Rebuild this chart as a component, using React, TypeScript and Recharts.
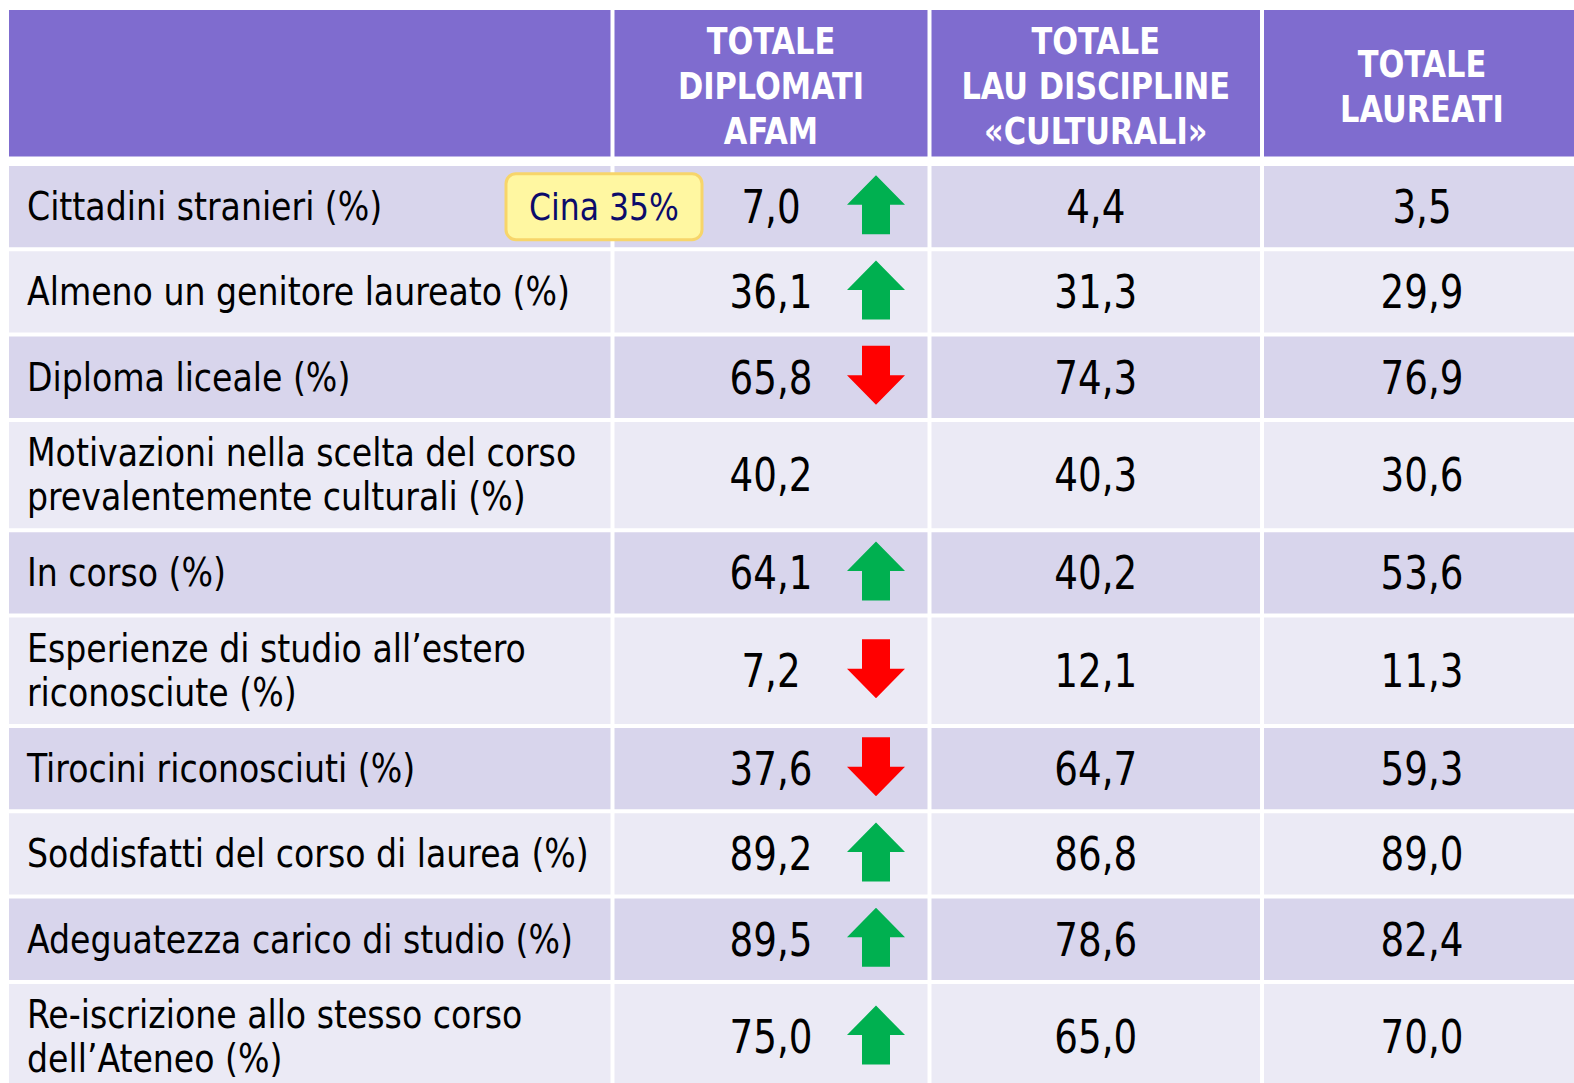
import { ComposedChart, ReferenceArea, Scatter, XAxis, YAxis } from "recharts";

// table content
const HEADERS = [
  "",
  "TOTALE\nDIPLOMATI\nAFAM",
  "TOTALE\nLAU DISCIPLINE\n«CULTURALI»",
  "TOTALE\nLAUREATI",
];

const ROW_LABELS = [
  "Cittadini stranieri (%)",
  "Almeno un genitore laureato (%)",
  "Diploma liceale (%)",
  "Motivazioni nella scelta del corso\nprevalentemente culturali (%)",
  "In corso (%)",
  "Esperienze di studio all’estero\nriconosciute (%)",
  "Tirocini riconosciuti (%)",
  "Soddisfatti del corso di laurea (%)",
  "Adeguatezza carico di studio (%)",
  "Re-iscrizione allo stesso corso\ndell’Ateneo (%)",
];

const AFAM = [7.0, 36.1, 65.8, 40.2, 64.1, 7.2, 37.6, 89.2, 89.5, 75.0];
const CULTURALI = [4.4, 31.3, 74.3, 40.3, 40.2, 12.1, 64.7, 86.8, 78.6, 65.0];
const LAUREATI = [3.5, 29.9, 76.9, 30.6, 53.6, 11.3, 59.3, 89.0, 82.4, 70.0];
const AFAM_TREND = ["up", "up", "down", "", "up", "down", "down", "up", "up", "up"];

const NOTE_ROW = 0;
const NOTE_TEXT = "Cina 35%";

// layout
const W = 1574;
const H = 1083;
const COL_EDGES = [9, 612.5, 929.5, 1262, 1582];
const GAP = 4;
const HEADER_TOP = 10;
const HEADER_H = 146.5;
const HEADER_GAP = 9.5;
const ROW_H = 81.3;
const EXTRA_LINE_H = 25.1;

const FONT = "'Liberation Sans Narrow', 'DejaVu Sans Condensed', 'Liberation Sans', sans-serif";
const HEADER_BG = "#7F6CCF";
const ROW_DARK = "#D8D5EC";
const ROW_LIGHT = "#EBEAF5";

const fmt = (v: number) => v.toFixed(1).replace(".", ",");

const rowTops: number[] = [];
const rowHeights: number[] = [];
let cursor = HEADER_TOP + HEADER_H + HEADER_GAP;
ROW_LABELS.forEach((label) => {
  const h = ROW_H + (label.split("\n").length - 1) * EXTRA_LINE_H;
  rowTops.push(cursor);
  rowHeights.push(h);
  cursor += h + GAP;
});

const colCenter = (i: number) => (COL_EDGES[i] + COL_EDGES[i + 1]) / 2;
const cellX1 = (i: number) => COL_EDGES[i] + (i === 0 ? 0 : GAP / 2);
const cellX2 = (i: number) => Math.min(COL_EDGES[i + 1] - GAP / 2, W);
const rowBottom = (r: number) => Math.min(rowTops[r] + rowHeights[r], H);

const headerPts = HEADERS.map((text, i) => ({
  x: colCenter(i),
  y: HEADER_TOP + HEADER_H / 2 + 3,
  text,
}));

const labelPts = ROW_LABELS.map((text, i) => ({
  x: 27,
  y: rowTops[i] + rowHeights[i] / 2,
  text,
}));

const valuePts = [AFAM, CULTURALI, LAUREATI].flatMap((serie, c) =>
  serie.map((v, i) => ({
    x: colCenter(c + 1),
    y: rowTops[i] + rowHeights[i] / 2,
    text: fmt(v),
  }))
);

const arrowPts = AFAM_TREND.map((t, i) => ({
  x: colCenter(1) + 105,
  y: rowTops[i] + rowHeights[i] / 2 - 2,
  trend: t,
})).filter((p) => p.trend);

const notePts = [
  { x: 604, y: rowTops[NOTE_ROW] + rowHeights[NOTE_ROW] / 2, text: NOTE_TEXT },
];

const MultiText = (props: any) => {
  const { cx, cy, payload, anchor, size, weight, color, lineH, squeeze } = props;
  const lines: string[] = payload.text.split("\n");
  const start = cy - ((lines.length - 1) * lineH) / 2;
  return (
    <text
      x={cx}
      textAnchor={anchor}
      fontFamily={FONT}
      fontSize={size}
      fontWeight={weight}
      fill={color}
      transform={`translate(${cx},0) scale(${squeeze},1) translate(${-cx},0)`}
    >
      {lines.map((l, k) => (
        <tspan key={k} x={cx} y={start + k * lineH} dominantBaseline="central">
          {l}
        </tspan>
      ))}
    </text>
  );
};

const Arrow = ({ cx, cy, payload }: any) => {
  const up = payload.trend === "up";
  const d = up ? -1 : 1;
  const pts = [
    [0, 29.5 * d],
    [29, 0],
    [14, 0],
    [14, -29.5 * d],
    [-14, -29.5 * d],
    [-14, 0],
    [-29, 0],
  ]
    .map(([px, py]) => `${cx + px},${cy + py}`)
    .join(" ");
  return <polygon points={pts} fill={up ? "#00B050" : "#FF0000"} />;
};

const Note = ({ cx, cy, payload }: any) => (
  <g>
    <rect
      x={cx - 98}
      y={cy - 33}
      width={196}
      height={66}
      rx={10}
      fill="#FFF7A1"
      stroke="#F7D56A"
      strokeWidth={3}
    />
    <text
      x={cx}
      y={cy}
      textAnchor="middle"
      dominantBaseline="central"
      fontFamily={FONT}
      fontSize={38}
      fill="#0B0B6B"
      transform={`translate(${cx},0) scale(0.92,1) translate(${-cx},0)`}
    >
      {payload.text}
    </text>
  </g>
);

export default function App() {
  return (
    <div style={{ position: "absolute", left: 0, top: 0, background: "#fff" }}>
      <ComposedChart width={W} height={H} margin={{ top: 0, right: 0, bottom: 0, left: 0 }}>
        <XAxis type="number" dataKey="x" domain={[0, W]} allowDataOverflow hide />
        <YAxis type="number" dataKey="y" domain={[0, H]} allowDataOverflow reversed hide width={0} />
        {HEADERS.map((_, c) => (
          <ReferenceArea
            key={`h${c}`}
            x1={cellX1(c)}
            x2={cellX2(c)}
            y1={HEADER_TOP}
            y2={HEADER_TOP + HEADER_H}
            fill={HEADER_BG}
            fillOpacity={1}
            ifOverflow="hidden"
          />
        ))}
        {ROW_LABELS.flatMap((_, r) =>
          HEADERS.map((__, c) => (
            <ReferenceArea
              key={`c${r}-${c}`}
              x1={cellX1(c)}
              x2={cellX2(c)}
              y1={rowTops[r]}
              y2={rowBottom(r)}
              fill={r % 2 === 0 ? ROW_DARK : ROW_LIGHT}
              fillOpacity={1}
              ifOverflow="hidden"
            />
          ))
        )}
        <Scatter
          data={headerPts}
          isAnimationActive={false}
          shape={(p: any) => (
            <MultiText {...p} anchor="middle" size={38} weight="bold" color="#FFFFFF" lineH={45} squeeze={0.89} />
          )}
        />
        <Scatter
          data={labelPts}
          isAnimationActive={false}
          shape={(p: any) => (
            <MultiText {...p} anchor="start" size={39} weight="normal" color="#000000" lineH={44} squeeze={0.945} />
          )}
        />
        <Scatter
          data={valuePts}
          isAnimationActive={false}
          shape={(p: any) => (
            <MultiText {...p} anchor="middle" size={46} weight="normal" color="#000000" lineH={44} squeeze={0.9} />
          )}
        />
        <Scatter data={arrowPts} isAnimationActive={false} shape={Arrow} />
        <Scatter data={notePts} isAnimationActive={false} shape={Note} />
      </ComposedChart>
    </div>
  );
}
